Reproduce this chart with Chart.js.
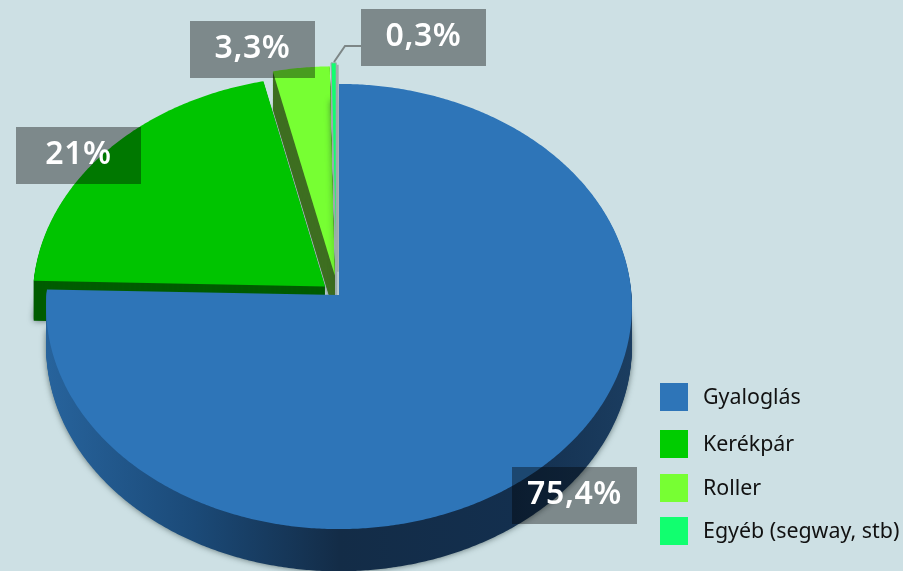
<!DOCTYPE html>
<html>
<head>
<meta charset="utf-8">
<style>
  html, body { margin: 0; padding: 0; background: #cde0e4; overflow: hidden; }
  #wrap { position: relative; width: 903px; height: 571px; }
  #pie { position: absolute; left: 0; top: 0; }
  #legend { position: absolute; left: 660px; top: 383px; margin: 0; padding: 0; list-style: none;
    font: 21.4px "Noto Sans", sans-serif; color: #111; white-space: nowrap; }
  #legend li { height: 28px; line-height: 26px; margin-bottom: 16px; }
  #legend li:first-child { margin-bottom: 19px; }
  #legend li:nth-child(3) { margin-bottom: 15px; }
  #legend i { display: inline-block; width: 28px; height: 28px; margin-right: 15px; vertical-align: top; }
</style>
</head>
<body>
<div id="wrap">
  <canvas id="pie" width="903" height="571"></canvas>
  <ul id="legend"></ul>
</div>
<script src="https://cdn.jsdelivr.net/npm/chart.js@4"></script>
<script>
var categories = ["Gyaloglás", "Kerékpár", "Roller", "Egyéb (segway, stb)"];
var shares = [75.4, 21, 3.3, 0.3];
var colours = ["#2e75b8", "#00c400", "#77ff33", "#11ff6f"];
var wallColours = ["", "#005c00", "#3f7020", "#a0abab"];
var explode = [0, 18, 26, 31];
var nudgeX = [0, 0, -1, -2.5];

// the fake 3D look: the library lays the arcs out, this maps them onto a tilted disc
var originY = 295;
var depth = 40;
var persp = 0.0517;
var stretchX = 292.5 / 293;
var stretchY = 222 / 293;

// label boxes, same order as the categories
var boxes = [[512, 467], [16, 127], [190, 21], [361, 9]];

function slicePoints(el, nudge) {
  var p = el.getProps(["x", "startAngle", "endAngle", "outerRadius"], true);
  var r = p.outerRadius;
  var mid = (p.startAngle + p.endAngle) / 2;
  var off = el.options.offset;
  var ox = Math.cos(mid) * off, oy = Math.sin(mid) * off;
  function project(dx, dy) {
    var s = 1 / (1 - persp * dy / r);
    return [p.x + nudge + stretchX * dx * s, originY + stretchY * dy * s, s];
  }
  var pts = [project(ox, oy)];
  var steps = Math.max(2, Math.ceil((p.endAngle - p.startAngle) * 120));
  for (var i = 0; i <= steps; i++) {
    var a = p.startAngle + (p.endAngle - p.startAngle) * i / steps;
    pts.push(project(ox + Math.cos(a) * r, oy + Math.sin(a) * r));
  }
  return pts;
}

function trace(ctx, pts, d) {
  ctx.beginPath();
  pts.forEach(function (q, i) {
    if (i == 0) ctx.moveTo(q[0], q[1] + d * q[2]);
    else ctx.lineTo(q[0], q[1] + d * q[2]);
  });
  ctx.closePath();
}

var tiltedPie = {
  id: "tiltedPie",
  beforeDatasetsDraw: function (chart) {
    var ctx = chart.ctx;
    var arcs = chart.getDatasetMeta(0).data;

    var blueWall = ctx.createLinearGradient(47, 0, 632, 0);
    blueWall.addColorStop(0, "#27639c");
    blueWall.addColorStop(0.25, "#1b4a78");
    blueWall.addColorStop(0.5, "#132c47");
    blueWall.addColorStop(0.8, "#132f4e");
    blueWall.addColorStop(1, "#1b3d60");

    [2, 3, 1, 0].forEach(function (i) {
      var pts = slicePoints(arcs[i], nudgeX[i]);
      ctx.save();
      ctx.fillStyle = i == 0 ? blueWall : wallColours[i];

      // soft shadow under the wall, for the big slice only along its front rim
      ctx.save();
      if (i == 0) {
        ctx.beginPath();
        ctx.rect(0, originY + 5, chart.width, chart.height);
        ctx.clip();
      }
      ctx.shadowColor = "rgba(30,50,50,0.65)";
      ctx.shadowBlur = 6;
      trace(ctx, pts, depth);
      ctx.fill();
      ctx.restore();

      for (var d = depth - 1; d > 0; d--) {
        trace(ctx, pts, d);
        ctx.fill();
      }

      ctx.filter = "blur(0.6px)";
      trace(ctx, pts, 0);
      ctx.fillStyle = colours[i];
      ctx.fill();
      ctx.filter = "none";

      if (i == 3) {
        // grey seam on both sides of the thin slice
        ctx.strokeStyle = wallColours[3];
        ctx.lineWidth = 1;
        ctx.stroke();
        var apex = pts[0], rim = pts[pts.length - 1];
        ctx.lineWidth = 2.5;
        ctx.beginPath();
        ctx.moveTo(rim[0] + 1.2, rim[1] + 2);
        ctx.lineTo(apex[0] + 1.2, apex[1]);
        ctx.stroke();
      }
      ctx.restore();
    });
    return false;
  },
  afterDraw: function (chart) {
    var ctx = chart.ctx;
    ctx.save();
    // leader of the smallest slice
    ctx.strokeStyle = "#7d8686";
    ctx.lineWidth = 2;
    ctx.beginPath();
    ctx.moveTo(361, 46);
    ctx.lineTo(345, 46);
    ctx.lineTo(334, 62);
    ctx.stroke();

    ctx.font = "600 32px 'Noto Sans', sans-serif";
    ctx.letterSpacing = "0.6px";
    ctx.textAlign = "center";
    ctx.textBaseline = "middle";
    shares.forEach(function (v, i) {
      var b = boxes[i];
      ctx.fillStyle = "rgba(0,0,0,0.39)";
      ctx.fillRect(b[0], b[1], 125, 57);
      ctx.fillStyle = "#fff";
      ctx.fillText(String(v).replace(".", ",") + "%", b[0] + 62.5, b[1] + 28);
    });
    ctx.restore();
  }
};

var ctx = document.getElementById("pie").getContext("2d");
var chart = new Chart(ctx, {
  type: "pie",
  data: {
    labels: categories,
    datasets: [{
      data: shares,
      backgroundColor: colours,
      borderWidth: 0,
      offset: explode
    }]
  },
  options: {
    responsive: false,
    animation: false,
    radius: 293,
    layout: { padding: { right: 225 } },
    plugins: { legend: { display: false }, tooltip: { enabled: false } }
  },
  plugins: [tiltedPie]
});

var legend = document.getElementById("legend");
categories.forEach(function (name, i) {
  var li = document.createElement("li");
  var swatch = document.createElement("i");
  swatch.style.background = i == 1 ? "#00cc00" : colours[i];
  li.appendChild(swatch);
  li.appendChild(document.createTextNode(name));
  legend.appendChild(li);
});
</script>
</body>
</html>
